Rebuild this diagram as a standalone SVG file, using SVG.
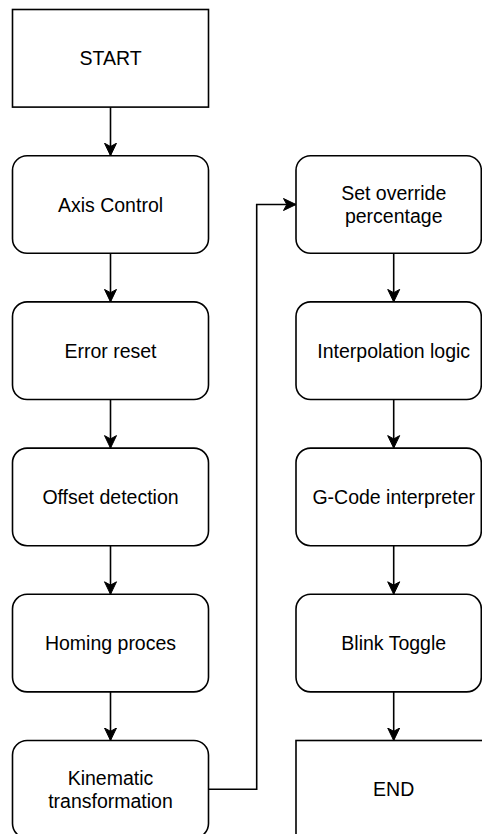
<svg xmlns="http://www.w3.org/2000/svg" width="482" height="834" viewBox="0 0 482 834">
  <defs>
    <marker id="arrow" markerUnits="userSpaceOnUse" markerWidth="16" markerHeight="16" refX="13" refY="7" orient="auto">
      <path d="M13,7 L0.5,1 L3.8,7 L0.5,13 Z" fill="#000" stroke="#000" stroke-width="1" stroke-linejoin="miter"/>
    </marker>
  </defs>
  <style>
    .box { fill: #fff; stroke: #000; stroke-width: 1.6; }
    .lbl { font-family: "Liberation Sans", Arial, Helvetica, sans-serif; font-size: 19.5px; fill: #000; text-anchor: middle; }
    .edge { fill: none; stroke: #000; stroke-width: 1.6; marker-end: url(#arrow); }
  </style>
  <rect width="482" height="834" fill="#fff"/>

  <!-- left column -->
  <g id="start">
    <rect class="box" x="12.5" y="9.5" width="196" height="97.6"/>
    <text class="lbl" x="110.5" y="65.3">START</text>
  </g>
  <g id="axis-control">
    <rect class="box" x="12.5" y="155.7" width="196" height="97.6" rx="14.6"/>
    <text class="lbl" x="110.5" y="211.5">Axis Control</text>
  </g>
  <g id="error-reset">
    <rect class="box" x="12.5" y="301.9" width="196" height="97.6" rx="14.6"/>
    <text class="lbl" x="110.5" y="357.7">Error reset</text>
  </g>
  <g id="offset-detection">
    <rect class="box" x="12.5" y="448.1" width="196" height="97.6" rx="14.6"/>
    <text class="lbl" x="110.5" y="503.9">Offset detection</text>
  </g>
  <g id="homing-proces">
    <rect class="box" x="12.5" y="594.3" width="196" height="97.6" rx="14.6"/>
    <text class="lbl" x="110.5" y="650.1">Homing proces</text>
  </g>
  <g id="kinematic-transformation">
    <rect class="box" x="12.5" y="740.5" width="196" height="97.6" rx="14.6"/>
    <text class="lbl" x="110.5" y="784.6">Kinematic</text>
    <text class="lbl" x="110.5" y="808">transformation</text>
  </g>

  <!-- right column -->
  <g id="set-override-percentage">
    <rect class="box" x="296" y="155.7" width="185.3" height="97.6" rx="14.6"/>
    <text class="lbl" x="393.7" y="199.8">Set override</text>
    <text class="lbl" x="393.7" y="223.2">percentage</text>
  </g>
  <g id="interpolation-logic">
    <rect class="box" x="296" y="301.9" width="185.3" height="97.6" rx="14.6"/>
    <text class="lbl" x="393.7" y="357.7">Interpolation logic</text>
  </g>
  <g id="g-code-interpreter">
    <rect class="box" x="296" y="448.1" width="185.3" height="97.6" rx="14.6"/>
    <text class="lbl" x="393.7" y="503.9">G-Code interpreter</text>
  </g>
  <g id="blink-toggle">
    <rect class="box" x="296" y="594.3" width="185.3" height="97.6" rx="14.6"/>
    <text class="lbl" x="393.7" y="650.1">Blink Toggle</text>
  </g>
  <g id="end">
    <rect class="box" x="296" y="740.5" width="196" height="97.6"/>
    <text class="lbl" x="393.7" y="796.3">END</text>
  </g>

  <!-- connectors -->
  <g id="connectors">
    <path class="edge" d="M110.5,107.1 V155.7"/>
    <path class="edge" d="M110.5,253.3 V301.9"/>
    <path class="edge" d="M110.5,399.5 V448.1"/>
    <path class="edge" d="M110.5,545.7 V594.3"/>
    <path class="edge" d="M110.5,691.9 V740.5"/>
    <path class="edge" d="M208.5,789.3 H256.7 V204.5 H296"/>
    <path class="edge" d="M393.7,253.3 V301.9"/>
    <path class="edge" d="M393.7,399.5 V448.1"/>
    <path class="edge" d="M393.7,545.7 V594.3"/>
    <path class="edge" d="M393.7,691.9 V740.5"/>
  </g>
</svg>
